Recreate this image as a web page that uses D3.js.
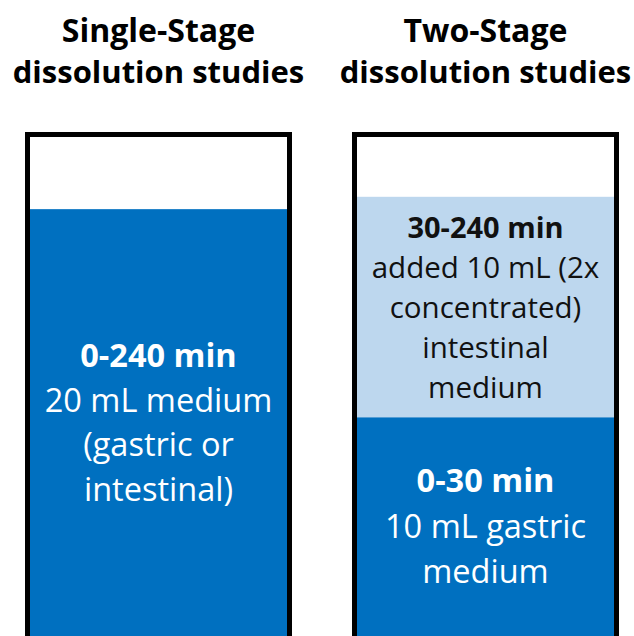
<!DOCTYPE html>
<html><head><meta charset="utf-8">
<script src="https://cdn.jsdelivr.net/npm/d3@7"></script>
<style>html,body{margin:0;padding:0;background:#fff;overflow:hidden}</style>
</head><body>
<svg id="c" width="634" height="636"></svg>
<script>
// ---- data ----
const panels = ["single", "two"];
const panelTitles = [["Single-Stage", "dissolution studies"], ["Two-Stage", "dissolution studies"]];
// fill segments: panel, bottom level, top level (relative fill height units), colour key
const segPanel  = ["single", "two", "two"];
const segBottom = [0, 0, 45.2];
const segTop    = [85.6, 45.2, 88.0];
const segKind   = ["dark", "dark", "light"];
// label blocks per segment: first line bold
const segLabels = [
  ["0-240 min", "20 mL medium", "(gastric or", "intestinal)"],
  ["0-30 min", "10 mL gastric", "medium"],
  ["30-240 min", "added 10 mL (2x", "concentrated)", "intestinal", "medium"]
];
const colours = {dark: "#0070C0", light: "#BDD7EE"};
const textColours = {dark: "#ffffff", light: "#111111"};

// ---- scales ----
const W = 634, H = 636;
const svg = d3.select("#c");
const x = d3.scaleBand().domain(panels).range([25, 619]).paddingInner(0.1835).paddingOuter(0);
const y = d3.scaleLinear().domain([0, 100]).range([650, 135]);
const border = 5;
const font = "'Open Sans', 'Noto Sans', sans-serif";

// fills
segPanel.forEach((p, i) => {
  const x0 = x(p) + border, x1 = x(p) + x.bandwidth() - border;
  svg.append("rect")
    .attr("x", x0).attr("width", x1 - x0)
    .attr("y", y(segTop[i])).attr("height", y(segBottom[i]) - y(segTop[i]))
    .attr("fill", colours[segKind[i]]);
});

// containers (open at bottom below view)
panels.forEach(p => {
  svg.append("rect")
    .attr("x", x(p) + border / 2).attr("y", y(100) - 3 + border / 2)
    .attr("width", x.bandwidth() - border).attr("height", 600)
    .attr("fill", "none").attr("stroke", "#000").attr("stroke-width", border);
});

// titles (both lines bold)
const titleSizes = [32, 31];
panels.forEach((p, i) => {
  const cx = x(p) + x.bandwidth() / 2;
  panelTitles[i].forEach((t, j) => {
    svg.append("text").attr("x", cx).attr("y", 42 + j * 41)
      .attr("text-anchor", "middle").attr("font-family", font)
      .attr("font-size", titleSizes[j]).attr("font-weight", 700)
      .attr("fill", "#000").text(t);
  });
});

// segment labels
const labelStart = [367, 492, 238];
const labelStep = [44.5, 45.5, 40];
const labelSize = [32.5, 32.5, 29.5];
const labelBoldSize = [32.5, 32.5, 29];
segPanel.forEach((p, i) => {
  const cx = x(p) + x.bandwidth() / 2;
  segLabels[i].forEach((t, j) => {
    svg.append("text").attr("x", cx).attr("y", labelStart[i] + j * labelStep[i])
      .attr("text-anchor", "middle").attr("font-family", font)
      .attr("font-size", j === 0 ? labelBoldSize[i] : labelSize[i]).attr("font-weight", j === 0 ? 700 : 400)
      .attr("fill", textColours[segKind[i]]).text(t);
  });
});
</script>
</body></html>
